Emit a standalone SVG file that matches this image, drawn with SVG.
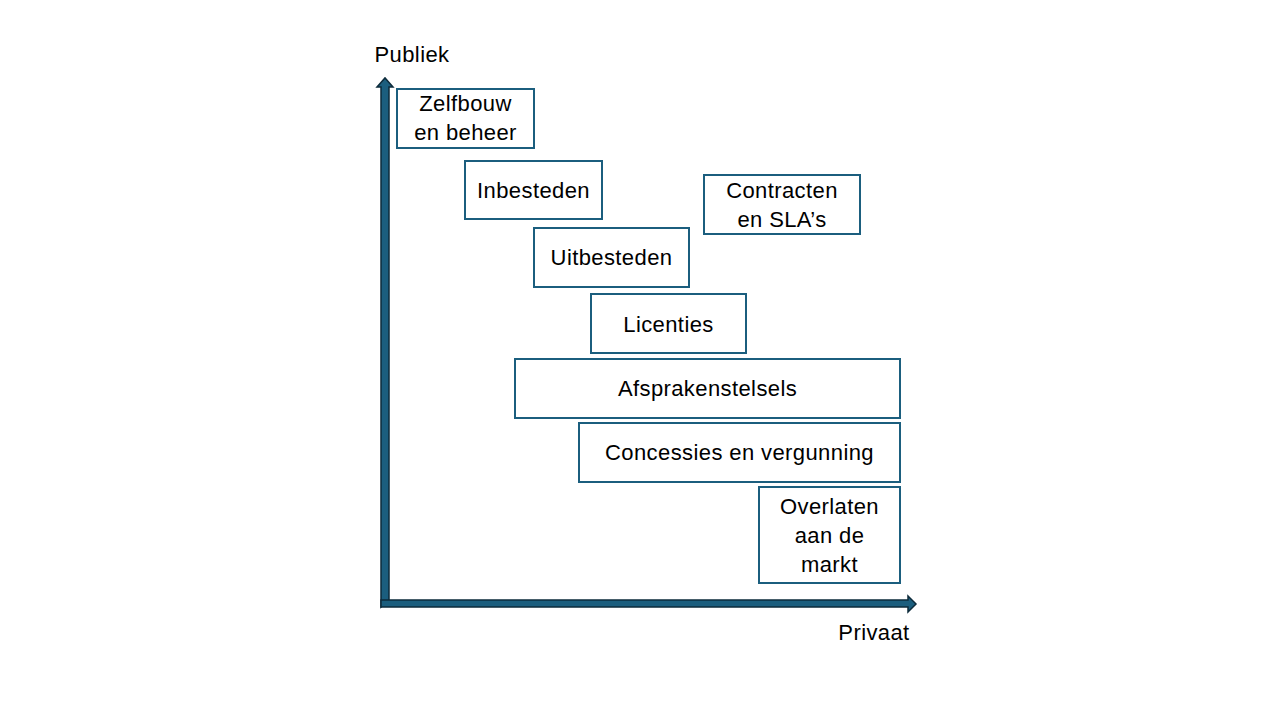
<svg xmlns="http://www.w3.org/2000/svg" width="1280" height="720" viewBox="0 0 1280 720">
<style>
.box{fill:#fff;stroke:#1b5e7e;stroke-width:2}
.t{font-family:"Liberation Sans",Arial,sans-serif;font-size:22px;letter-spacing:0.4px;fill:#000;text-anchor:middle;dominant-baseline:central}
.ax{fill:#1b5e7e;stroke:#0d2b3b;stroke-width:1.5;stroke-linejoin:miter}
</style>
<rect width="1280" height="720" fill="#fff"/>
<g id="connectors">
<path class="ax" d="M381,607 L381,87 L377,87 L385,78 L393,87 L389,87 L389,600 Z"/>
<path class="ax" d="M381,607 L381,600 L908,600 L908,596 L916,604 L908,612 L908,607 Z"/>
</g>
<g id="axis-publiek"><text class="t" x="412" y="54">Publiek</text></g>
<g id="axis-privaat"><text class="t" x="874" y="632">Privaat</text></g>
<g id="zelfbouw"><rect class="box" x="397" y="89" width="137" height="59"/><text class="t" x="465.5" y="103">Zelfbouw</text><text class="t" x="465.5" y="132">en beheer</text></g>
<g id="inbesteden"><rect class="box" x="465" y="161" width="137" height="58"/><text class="t" x="533.5" y="190">Inbesteden</text></g>
<g id="contracten"><rect class="box" x="704" y="175" width="156" height="59"/><text class="t" x="782" y="190">Contracten</text><text class="t" x="782" y="219">en SLA’s</text></g>
<g id="uitbesteden"><rect class="box" x="534" y="228" width="155" height="59"/><text class="t" x="611.5" y="257">Uitbesteden</text></g>
<g id="licenties"><rect class="box" x="591" y="294" width="155" height="59"/><text class="t" x="668.5" y="324">Licenties</text></g>
<g id="afsprakenstelsels"><rect class="box" x="515" y="359" width="385" height="59"/><text class="t" x="707.5" y="388">Afsprakenstelsels</text></g>
<g id="concessies"><rect class="box" x="579" y="423" width="321" height="59"/><text class="t" x="739.5" y="452">Concessies en vergunning</text></g>
<g id="overlaten"><rect class="box" x="759" y="487" width="141" height="96"/><text class="t" x="829.5" y="506">Overlaten</text><text class="t" x="829.5" y="535">aan de</text><text class="t" x="829.5" y="564">markt</text></g>
</svg>
